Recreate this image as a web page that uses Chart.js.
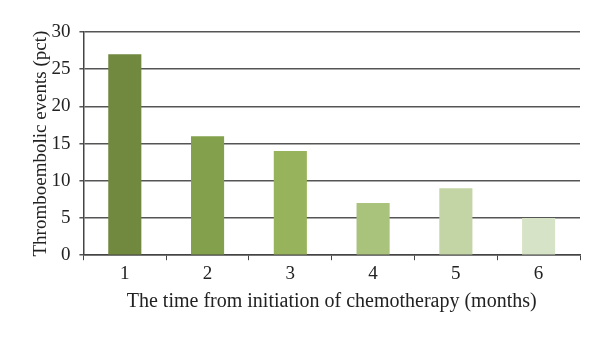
<!DOCTYPE html>
<html>
<head>
<meta charset="utf-8">
<script src="https://cdn.jsdelivr.net/npm/chart.js@4/dist/chart.umd.min.js"></script>
<style>
  html, body { margin: 0; padding: 0; background: #fff; }
  #wrap { width: 600px; height: 338px; }
</style>
</head>
<body>
<div id="wrap"><canvas id="events"></canvas></div>
<script>
const months = ["1", "2", "3", "4", "5", "6"];
const eventsPct = [27, 16, 14, 7, 9, 5];
const barColors = ["#71893f", "#83a04c", "#97b35b", "#a9c27c", "#c3d4a5", "#d7e3c6"];

const serif = "'Liberation Serif', 'DejaVu Serif', serif";

const eventsCtx = document.getElementById("events").getContext("2d");

new Chart(eventsCtx, {
  type: "bar",
  data: {
    labels: months,
    datasets: [
      {
        data: eventsPct,
        backgroundColor: barColors,
        barPercentage: 0.4,
        categoryPercentage: 1,
      },
    ],
  },
  options: {
    responsive: true,
    maintainAspectRatio: false,
    animation: false,
    plugins: {
      legend: { display: false },
      tooltip: { enabled: false },
    },
    layout: {
      padding: { left: 39, right: 20, top: 32, bottom: 24 },
    },
    scales: {
      x: {
        grid: {
          offset: true,
          drawOnChartArea: false,
          color: "#444",
          tickLength: 5,
        },
        border: { color: "#444", width: 1.5 },
        ticks: {
          color: "#222",
          font: { family: serif, size: 19 },
          padding: 2,
        },
        title: {
          display: true,
          text: "The time from initiation of chemotherapy (months)",
          color: "#222",
          font: { family: serif, size: 20 },
          padding: { top: 3, bottom: 0 },
        },
      },
      y: {
        min: 0,
        max: 30,
        ticks: {
          stepSize: 5,
          color: "#222",
          font: { family: serif, size: 19 },
          padding: 9,
        },
        grid: {
          color: "#555",
          lineWidth: 1.5,
          tickLength: 4,
        },
        border: { color: "#444", width: 1.5 },
        title: {
          display: true,
          text: "Thromboembolic events (pct)",
          color: "#222",
          font: { family: serif, size: 19, lineHeight: 0.18 },
          padding: { top: 0, bottom: 0 },
        },
      },
    },
  },
});
</script>
</body>
</html>
